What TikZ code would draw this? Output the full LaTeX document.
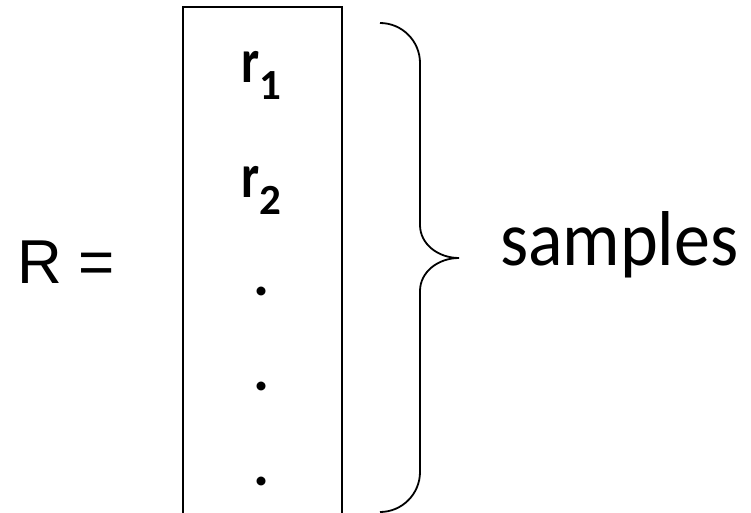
\documentclass[tikz,border=0pt]{standalone}
\usepackage{fontspec}
\setmainfont{Carlito}
\newfontfamily\arialfont{Liberation Sans}
\tikzset{
  lbl/.style={inner sep=0pt, outer sep=0pt, anchor=base west},
  rtxt/.style={lbl, font=\fontsize{60}{60}\selectfont\bfseries},
  dottxt/.style={inner sep=0pt, outer sep=0pt, anchor=base, font=\fontsize{60}{60}\selectfont\bfseries},
  frame/.style={line width=2pt, black},
}
\newcommand{\rsub}[1]{\scalebox{0.85}[1.05]{r}\raisebox{-17pt}{\fontsize{43}{43}\selectfont #1}}
\begin{document}
\begin{tikzpicture}[x=1pt, y=-1pt]
  \useasboundingbox (0,0) rectangle (751,513);
  % open box
  \coordinate (bl) at (182.5,514);
  \coordinate (tl) at (182.5,7);
  \coordinate (tr) at (342,7);
  \coordinate (br) at (342,514);
  \draw[frame] (bl) -- (tl) -- (tr) -- (br);
  % labels
  \node[lbl, font=\arialfont\fontsize{62}{62}\selectfont] (R) at (17,283) {R =};
  \node[rtxt] (r1) at (241,83) {\rsub{1}};
  \node[rtxt] (r2) at (241,197) {\rsub{2}};
  \node[dottxt] (d1) at (262,295) {.};
  \node[dottxt] (d2) at (262,390) {.};
  \node[dottxt] (d3) at (262,485) {.};
  \node[lbl, font=\fontsize{72}{72}\selectfont] (samples) at (500,265) {\scalebox{1}[1.08]{samples}};
  % brace
  \coordinate (b0) at (380,23);
  \coordinate (tip) at (459,258);
  \coordinate (b1) at (380,512);
  \draw[frame, line width=1.8pt]
    (b0) .. controls (402,23) and (420,41) .. (420,63)
    -- (420,225)
    .. controls (420,244) and (438,258) .. (tip)
    .. controls (438,258) and (420,272) .. (420,291)
    -- (420,472)
    .. controls (420,494) and (402,512) .. (b1);
\end{tikzpicture}
\end{document}
